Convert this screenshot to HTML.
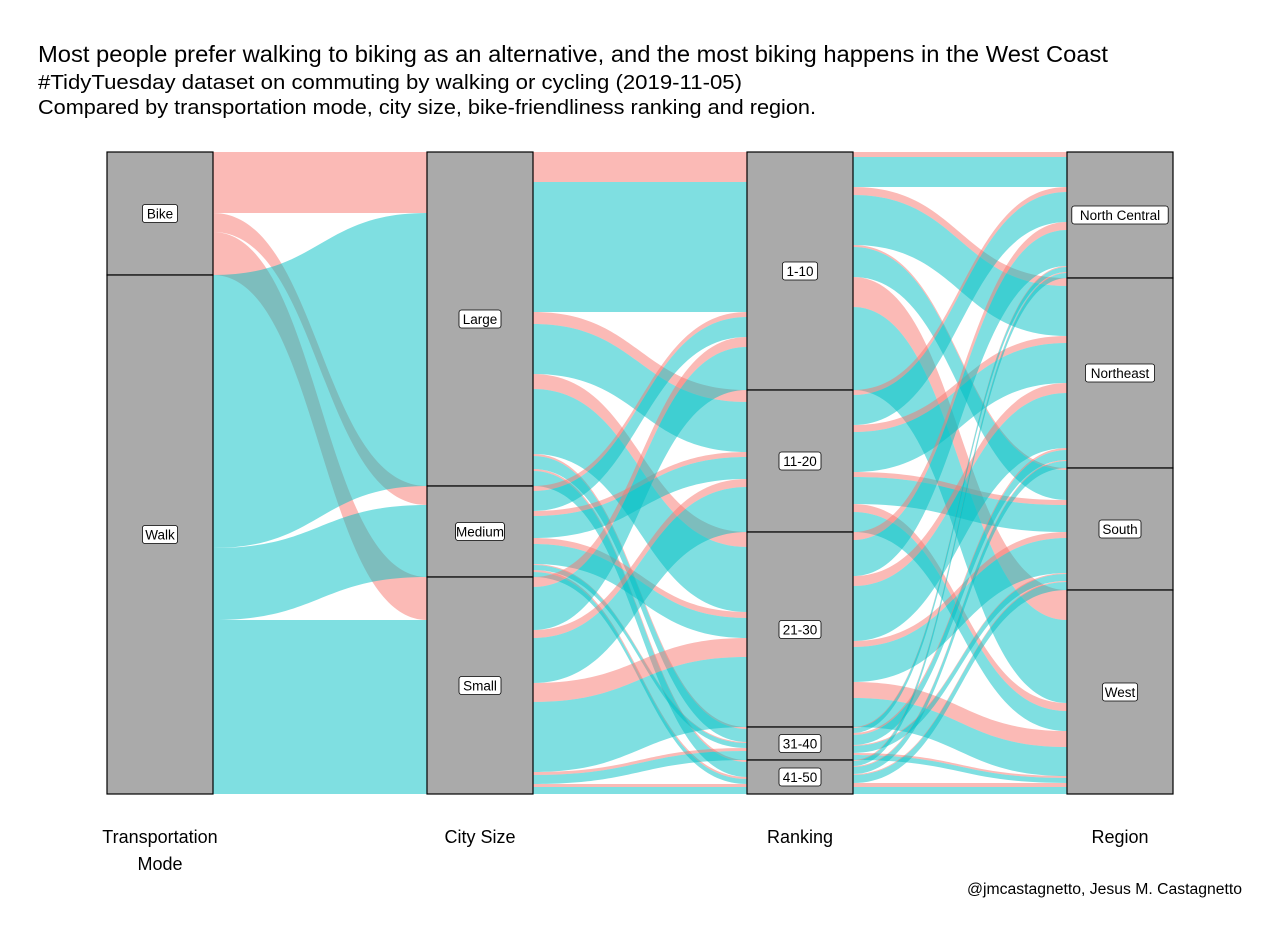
<!DOCTYPE html>
<html><head><meta charset="utf-8"><style>
body{margin:0;background:#fff;font-family:"Liberation Sans",sans-serif}
svg text{font-family:"Liberation Sans",sans-serif}
</style></head><body>
<svg id="chart" width="1280" height="936" xmlns="http://www.w3.org/2000/svg">
<text x="38" y="62" font-size="23" textLength="1070" lengthAdjust="spacingAndGlyphs" fill="#000">Most people prefer walking to biking as an alternative, and the most biking happens in the West Coast</text>
<text x="38" y="89" font-size="20" textLength="704" lengthAdjust="spacingAndGlyphs" fill="#000">#TidyTuesday dataset on commuting by walking or cycling (2019-11-05)</text>
<text x="38" y="114" font-size="20" textLength="778" lengthAdjust="spacingAndGlyphs" fill="#000">Compared by transportation mode, city size, bike-friendliness ranking and region.</text>
<g id="flows"></g>
<g id="strata"></g>
<g id="axes"></g>
<text x="967" y="894" font-size="15.5" textLength="275" lengthAdjust="spacingAndGlyphs" fill="#000">@jmcastagnetto, Jesus M. Castagnetto</text>
</svg>
<script>
const axisLabels=[["Transportation","Mode"],["City Size"],["Ranking"],["Region"]];
const strataNames=[["Bike","Walk"],["Large","Medium","Small"],["1-10","11-20","21-30","31-40","41-50"],["North Central","Northeast","South","West"]];
const modes=["Bike","Walk"];
// flows: [fromIdx, toIdx, modeIdx, value]
const flowsModeSize=[[0,0,0,61],[0,1,0,19],[0,2,0,43],[1,0,1,273],[1,1,1,72],[1,2,1,174]];
const flowsSizeRank=[
[0,0,0,30],[0,1,0,12],[0,2,0,15],[0,3,0,2],[0,4,0,2],
[0,0,1,130],[0,1,1,50],[0,2,1,65],[0,3,1,13],[0,4,1,15],
[1,0,0,5],[1,1,0,5],[1,2,0,6],[1,3,0,1],[1,4,0,2],
[1,0,1,20],[1,1,1,22],[1,2,1,20],[1,3,1,5],[1,4,1,5],
[2,0,0,10],[2,1,0,8],[2,2,0,19],[2,3,0,3],[2,4,0,3],
[2,0,1,43],[2,1,1,45],[2,2,1,70],[2,3,1,9],[2,4,1,7]];
const flowsRankRegion=[
[0,0,0,5],[0,1,0,8],[0,2,0,2],[0,3,0,30],
[0,0,1,30],[0,1,1,50],[0,2,1,30],[0,3,1,83],
[1,0,0,5],[1,1,0,7],[1,2,0,5],[1,3,0,8],
[1,0,1,30],[1,1,1,40],[1,2,1,27],[1,3,1,20],
[2,0,0,8],[2,1,0,10],[2,2,0,6],[2,3,0,16],
[2,0,1,36],[2,1,1,55],[2,2,1,35],[2,3,1,29],
[3,0,0,1],[3,1,0,2],[3,2,0,1],[3,3,0,2],
[3,0,1,5],[3,1,1,10],[3,2,1,7],[3,3,1,5],
[4,0,0,1],[4,1,0,1],[4,2,0,1],[4,3,0,4],
[4,0,1,5],[4,1,1,7],[4,2,1,8],[4,3,1,7]];
const pairs=[flowsModeSize,flowsSizeRank,flowsRankRegion];
const colors=["#F8766D","#00BFC4"];
const NS="http://www.w3.org/2000/svg";
const axisX=[107,427,747,1067], W=106, yTop=152, yBottom=794;
const total=flowsModeSize.reduce((s,f)=>s+f[3],0);
const yScale=v=>yTop+v*(yBottom-yTop)/total;
function mk(tag,attrs,parent){const e=document.createElementNS(NS,tag);for(const k in attrs)e.setAttribute(k,attrs[k]);parent.appendChild(e);return e;}
const strataTotals=[];
strataTotals[0]=strataNames[0].map((_,i)=>flowsModeSize.filter(f=>f[0]===i).reduce((s,f)=>s+f[3],0));
pairs.forEach((p,k)=>{strataTotals[k+1]=strataNames[k+1].map((_,i)=>p.filter(f=>f[1]===i).reduce((s,f)=>s+f[3],0));});
const strataStart=strataTotals.map(t=>{let c=0;return t.map(v=>{const s=c;c+=v;return s;});});
const gF=document.getElementById('flows');
pairs.forEach((p,k)=>{
  const srcOff=strataStart[k].slice(), dstOff=strataStart[k+1].slice();
  const srcPos=new Map(), dstPos=new Map();
  [...p].sort((a,b)=>a[0]-b[0]||a[1]-b[1]||a[2]-b[2]).forEach(f=>{srcPos.set(f,srcOff[f[0]]);srcOff[f[0]]+=f[3];});
  [...p].sort((a,b)=>a[1]-b[1]||a[0]-b[0]||a[2]-b[2]).forEach(f=>{dstPos.set(f,dstOff[f[1]]);dstOff[f[1]]+=f[3];});
  const x0=axisX[k]+W, x1=axisX[k+1], xm=(x0+x1)/2;
  p.forEach(f=>{
    const a0=yScale(srcPos.get(f)), a1=yScale(srcPos.get(f)+f[3]);
    const b0=yScale(dstPos.get(f)), b1=yScale(dstPos.get(f)+f[3]);
    const d=`M${x0},${a0} C${xm},${a0} ${xm},${b0} ${x1},${b0} L${x1},${b1} C${xm},${b1} ${xm},${a1} ${x0},${a1} Z`;
    const el=mk('path',{d:d,fill:colors[f[2]],'fill-opacity':0.5},gF);
    
    
  });
});
const gS=document.getElementById('strata');
strataNames.forEach((names,k)=>{
  names.forEach((n,i)=>{
    const y0=yScale(strataStart[k][i]), y1=yScale(strataStart[k][i]+strataTotals[k][i]);
    const r=mk('rect',{x:axisX[k],y:y0,width:W,height:y1-y0,fill:"#aaaaaa",stroke:"#000","stroke-width":1.2},gS);
    
    
    const cx=axisX[k]+W/2, cy=(y0+y1)/2;
    const tw=n.length*6.8+8;
    const b=mk('rect',{x:cx-tw/2,y:cy-9,width:tw,height:18,rx:2.5,fill:"#fff",stroke:"#000","stroke-width":0.8},gS);
    
    
    const t=mk('text',{x:cx,y:cy+5,'font-size':13.5,'text-anchor':'middle',fill:'#000'},gS);
    t.textContent=n;
    
    
  });
});
const gA=document.getElementById('axes');
axisLabels.forEach((lines,k)=>{
  lines.forEach((l,j)=>{
    const t=mk('text',{x:axisX[k]+W/2,y:843+j*27,'font-size':18,'text-anchor':'middle',fill:'#000'},gA);
    t.textContent=l;
    
    
  });
});
</script>
</body></html>
